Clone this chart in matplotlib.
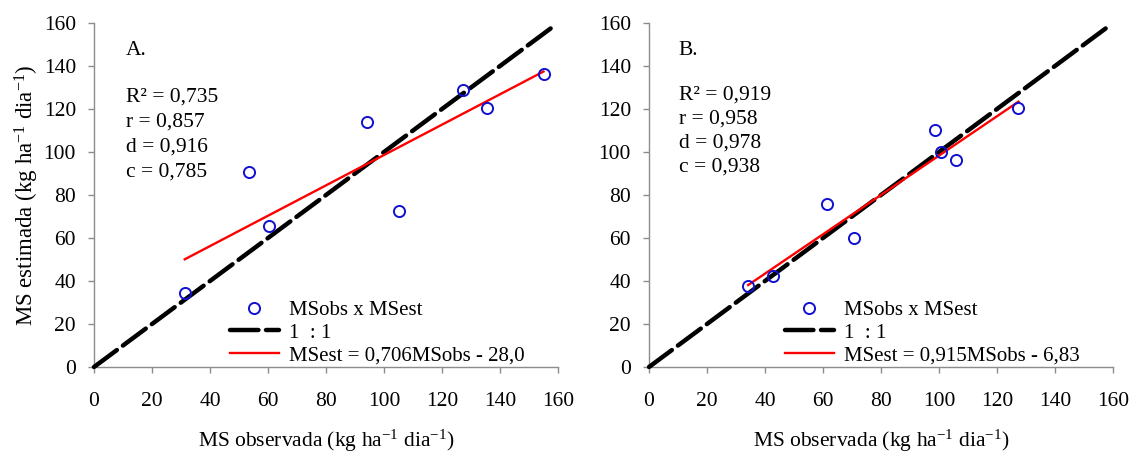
import matplotlib
matplotlib.use("Agg")
import matplotlib.pyplot as plt
import numpy as np

plt.rcParams['font.family'] = ['Liberation Serif', 'DejaVu Serif']
plt.rcParams['mathtext.default'] = 'regular'

# ---- Data ----
obs_A = [31.3, 53.5, 60.3, 94.1, 105.1, 127.2, 135.6, 155.0]
est_A = [34.6, 90.7, 65.7, 114.1, 72.5, 128.9, 120.5, 136.2]
slope_A, intercept_A = 0.706, 28.0
stats_A = ["R² = 0,735", "r = 0,857", "d = 0,916", "c = 0,785"]
eq_A = "MSest = 0,706MSobs - 28,0"

obs_B = [34.2, 42.8, 61.4, 70.6, 98.6, 100.7, 105.7, 127.4]
est_B = [37.8, 42.3, 75.8, 59.8, 110.2, 100.1, 96.3, 120.5]
slope_B, intercept_B = 0.915, 6.83
stats_B = ["R² = 0,919", "r = 0,958", "d = 0,978", "c = 0,938"]
eq_B = "MSest = 0,915MSobs - 6,83"

one_to_one = [0, 158]
ticks = [0, 20, 40, 60, 80, 100, 120, 140, 160]
xlabel = "MS observada (kg ha$^{-1}$ dia$^{-1}$)"
ylabel = "MS estimada (kg ha$^{-1}$ dia$^{-1}$)"

W, H = 1135, 457
fig = plt.figure(figsize=(W / 100, H / 100), dpi=100)

def px_axes(l, r, t, b):
    return fig.add_axes([l / W, 1 - b / H, (r - l) / W, (b - t) / H])

axA = px_axes(94, 558, 23, 367)
axB = px_axes(649, 1113, 23, 367)

gray = '#8c8c8c'

def draw(ax, obs, est, slope, intercept, stats, eq, tag, tx, ty0, dy, ylab):
    ax.set_xlim(0, 160)
    ax.set_ylim(0, 160)
    ax.set_xticks(ticks)
    ax.set_yticks(ticks)
    for s in ['top', 'right']:
        ax.spines[s].set_visible(False)
    for s in ['left', 'bottom']:
        ax.spines[s].set_color(gray)
        ax.spines[s].set_linewidth(1.0)
    ax.tick_params(axis='both', colors=gray, labelcolor='black', length=4.5,
                   width=1.0, labelsize=15.5, direction='out')
    ax.tick_params(axis='x', pad=13.5)
    ax.tick_params(axis='y', pad=8.5)

    ax.plot(obs, est, 'o', mfc='none', mec='#1010d0', mew=1.4, ms=8,
            label='MSobs x MSest', zorder=4, clip_on=False)
    l11, = ax.plot(one_to_one, one_to_one, color='black', lw=3.2,
                   solid_capstyle='round', dash_capstyle='round',
                   label='1  : 1', zorder=3, clip_on=False)
    l11.set_dashes((6.4, 1.7))
    xr = np.array([min(obs), max(obs)])
    ax.plot(xr, slope * xr + intercept, color='#ff0000', lw=1.7,
            label=eq, zorder=3)

    ax.text(tx, 0.92, tag, transform=ax.transAxes, fontsize=15.5,
            va='center', ha='left')
    for i, s in enumerate(stats):
        ax.text(tx, ty0 - i * dy, s, transform=ax.transAxes, fontsize=15.5,
                va='center', ha='left')

    ax.set_xlabel(xlabel, fontsize=15.5, labelpad=12)
    if ylab:
        ax.set_ylabel(ylabel, fontsize=16.5, labelpad=2)

    ax.legend(loc='lower left', bbox_to_anchor=(0.293, 0.005), frameon=False,
              fontsize=15, borderpad=0, borderaxespad=0, handlelength=2.35,
              handletextpad=0.5, labelspacing=0.15)

draw(axA, obs_A, est_A, slope_A, intercept_A, stats_A, eq_A, "A.",
     0.068, 0.784, 0.0727, True)
draw(axB, obs_B, est_B, slope_B, intercept_B, stats_B, eq_B, "B.",
     0.064, 0.792, 0.0700, False)

fig.savefig("out.png", dpi=100)
